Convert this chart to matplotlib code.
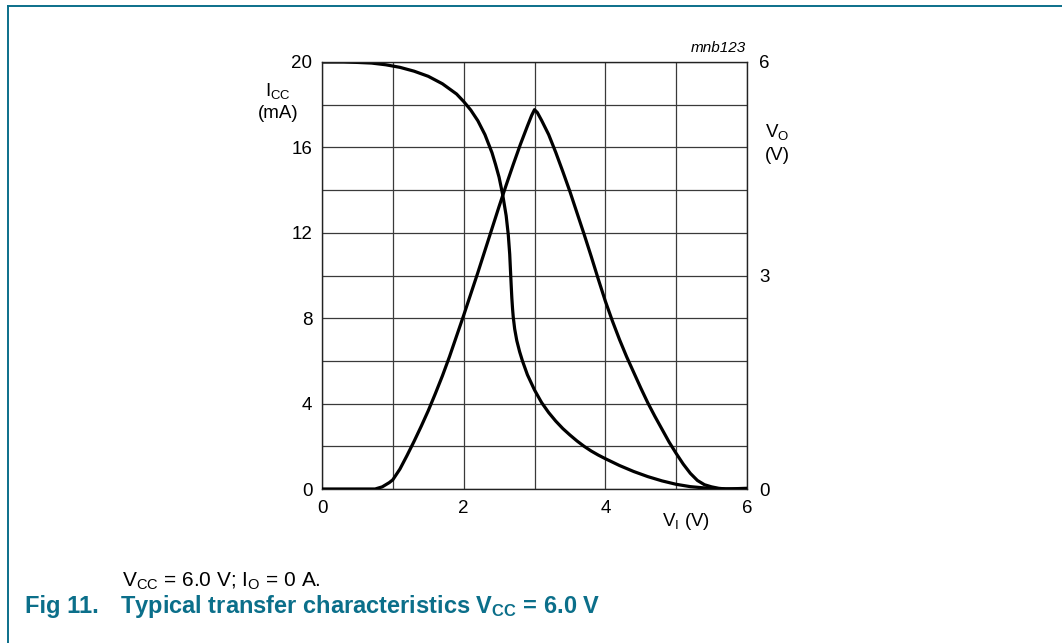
import matplotlib
matplotlib.use("Agg")
import matplotlib.pyplot as plt
from matplotlib.lines import Line2D

plt.rcParams['font.family'] = ['Liberation Sans', 'DejaVu Sans']
plt.rcParams['mathtext.fontset'] = 'custom'
plt.rcParams['mathtext.rm'] = 'Liberation Sans'
plt.rcParams['mathtext.it'] = 'Liberation Sans:italic'
plt.rcParams['mathtext.bf'] = 'Liberation Sans:bold'

TEAL = '#0b6f8a'

# supply current ICC (mA) vs input voltage VI (V)
vi_icc = [0, 0.3, 0.5, 0.7, 0.9, 1.1, 1.3, 1.5, 1.7, 1.9, 2.0, 2.1, 2.2, 2.3,
          2.4, 2.45, 2.5, 2.55, 2.6, 2.63, 2.65, 2.66, 2.67, 2.68, 2.69, 2.70,
          2.72, 2.75, 2.79, 2.83, 2.9, 3.0, 3.1, 3.2, 3.3, 3.4, 3.5, 3.6, 3.7,
          3.8, 3.9, 4.0, 4.2, 4.4, 4.6, 4.8, 5.0, 5.2, 5.4, 5.6, 5.8, 6.0]
icc = [20, 20, 19.98, 19.95, 19.87, 19.75, 19.57, 19.33, 18.98, 18.5, 18.15,
       17.75, 17.25, 16.6, 15.75, 15.2, 14.6, 13.8, 12.8, 11.9, 11.0, 10.3,
       9.6, 8.95, 8.45, 8.05, 7.5, 6.95, 6.43, 6.0, 5.35, 4.64, 4.05, 3.58,
       3.18, 2.83, 2.53, 2.25, 2.0, 1.78, 1.59, 1.42, 1.1, 0.82, 0.58, 0.38,
       0.22, 0.11, 0.05, 0.015, 0, 0]

# output voltage VO (V) vs input voltage VI (V)
vi_vo = [0, 0.5, 0.75, 0.85, 0.95, 1.0, 1.1, 1.2, 1.3, 1.4, 1.5, 1.6, 1.7,
         1.8, 1.9, 2.0, 2.1, 2.2, 2.3, 2.4, 2.5, 2.6, 2.7, 2.8, 2.9, 2.96, 3.0,
         3.04, 3.1, 3.2, 3.3, 3.4, 3.5, 3.6, 3.7, 3.8, 3.9, 4.0, 4.1, 4.2, 4.3,
         4.4, 4.5, 4.6, 4.7, 4.8, 4.9, 5.0, 5.1, 5.2, 5.3, 5.4, 5.5, 5.6, 5.7,
         6.0]
vo = [0, 0, 0, 0.03, 0.09, 0.13, 0.28, 0.47, 0.67, 0.88, 1.1, 1.34, 1.59,
      1.86, 2.15, 2.44, 2.74, 3.04, 3.35, 3.66, 3.97, 4.27, 4.56, 4.84, 5.1,
      5.25, 5.33, 5.29, 5.18, 4.98, 4.73, 4.46, 4.18, 3.88, 3.58, 3.27, 2.95,
      2.64, 2.36, 2.1, 1.86, 1.64, 1.42, 1.21, 1.02, 0.84, 0.66, 0.5, 0.35,
      0.22, 0.12, 0.06, 0.03, 0.01, 0, 0.01]

icc_ticks = [0, 4, 8, 12, 16, 20]
vo_ticks = [0, 3, 6]
vi_ticks = [0, 2, 4, 6]

fig = plt.figure(figsize=(10.62, 6.43), dpi=100)
ax = fig.add_axes([322 / 1062, 1 - 489 / 643, 425 / 1062, 427 / 643])

ax.set_xlim(0, 6)
ax.set_ylim(0, 20)
ax.set_xticks(vi_ticks)
ax.set_xticks([1, 3, 5], minor=True)
ax.set_yticks(icc_ticks)
ax.set_yticks([2, 6, 10, 14, 18], minor=True)
ax.grid(True, which='both', color='#3a3a3a', lw=0.9)
ax.tick_params(which='both', length=0, labelsize=13.5)
ax.tick_params(axis='y', pad=7)
ax.tick_params(axis='x', pad=8)
for s in ax.spines.values():
    s.set_linewidth(1.0)
    s.set_color('#222222')

ax.plot(vi_icc, icc, color='black', lw=2.3, solid_capstyle='round')

ax2 = ax.twinx()
ax2.set_ylim(0, 6)
ax2.set_yticks(vo_ticks)
ax2.tick_params(length=0, labelsize=13.5, pad=9)
for s in ax2.spines.values():
    s.set_visible(False)
ax2.plot(vi_vo, vo, color='black', lw=2.3, solid_capstyle='round')

# axis labels placed like the datasheet
fig.text(278 / 1062, 1 - 91 / 643, r'I$_{\rm CC}$', fontsize=13.5, ha='center', va='center')
fig.text(278 / 1062, 1 - 113 / 643, '(mA)', fontsize=13.5, ha='center', va='center')
fig.text(777 / 1062, 1 - 132 / 643, r'V$_{\rm O}$', fontsize=13.5, ha='center', va='center')
fig.text(777 / 1062, 1 - 156 / 643, '(V)', fontsize=13.5, ha='center', va='center')
fig.text(686 / 1062, 1 - 522 / 643, r'V$_{\rm I}$ (V)', fontsize=13.5, ha='center', va='center')
fig.text(746 / 1062, 1 - 48 / 643, 'mnb123', fontsize=11, style='italic', ha='right', va='center')

# caption
fig.text(122 / 1062, 1 - 581 / 643, r'V$_{\rm CC}$ = 6.0 V; I$_{\rm O}$ = 0 A.',
         fontsize=15, ha='left', va='center')
fig.text(25 / 1062, 1 - 606 / 643, 'Fig 11.', fontsize=17, fontweight='bold',
         color=TEAL, ha='left', va='center')
fig.text(120 / 1062, 1 - 606 / 643, r'Typical transfer characteristics V$_{\bf CC}$ = 6.0 V',
         fontsize=17, fontweight='bold', color=TEAL, ha='left', va='center')

# frame lines
fig.add_artist(Line2D([8 / 1062, 8 / 1062], [0, 1 - 6 / 643], color=TEAL, lw=1.4))
fig.add_artist(Line2D([8 / 1062, 1], [1 - 6 / 643, 1 - 6 / 643], color=TEAL, lw=1.4))

fig.savefig('out.png', dpi=100)
